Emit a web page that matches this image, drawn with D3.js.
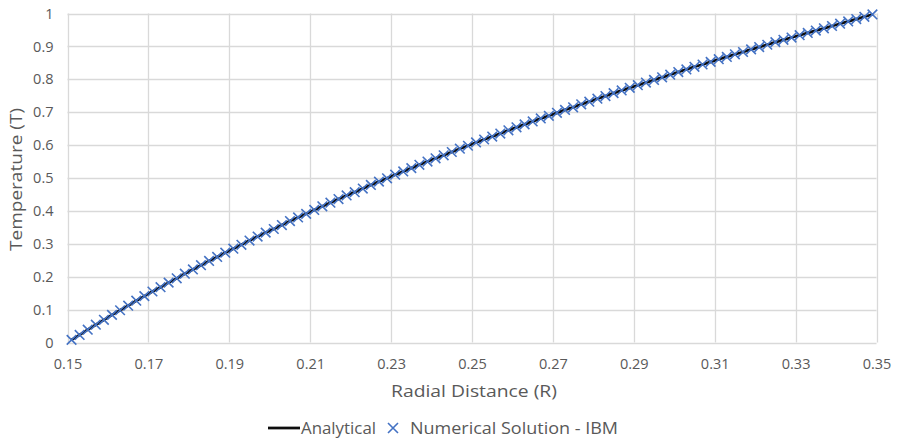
<!DOCTYPE html>
<html>
<head>
<meta charset="utf-8">
<script src="https://cdn.jsdelivr.net/npm/d3@7/dist/d3.min.js"></script>
<style>
  html, body { margin: 0; padding: 0; background: #fff; }
  svg { display: block; }
  text { font-family: "Open Sans", "Liberation Sans", sans-serif; fill: #595959; }
</style>
</head>
<body>
<svg id="chart" width="898" height="440"></svg>
<script>
// ---- Data ----
const radius = [
  0.151, 0.153, 0.155, 0.157, 0.159, 0.161, 0.163, 0.165, 0.167, 0.169,
  0.171, 0.173, 0.175, 0.177, 0.179, 0.181, 0.183, 0.185, 0.187, 0.189,
  0.191, 0.193, 0.195, 0.197, 0.199, 0.201, 0.203, 0.205, 0.207, 0.209,
  0.211, 0.213, 0.215, 0.217, 0.219, 0.221, 0.223, 0.225, 0.227, 0.229,
  0.231, 0.233, 0.235, 0.237, 0.239, 0.241, 0.243, 0.245, 0.247, 0.249,
  0.251, 0.253, 0.255, 0.257, 0.259, 0.261, 0.263, 0.265, 0.267, 0.269,
  0.271, 0.273, 0.275, 0.277, 0.279, 0.281, 0.283, 0.285, 0.287, 0.289,
  0.291, 0.293, 0.295, 0.297, 0.299, 0.301, 0.303, 0.305, 0.307, 0.309,
  0.311, 0.313, 0.315, 0.317, 0.319, 0.321, 0.323, 0.325, 0.327, 0.329,
  0.331, 0.333, 0.335, 0.337, 0.339, 0.341, 0.343, 0.345, 0.347, 0.349
];
const analyticalT = [
  0.008, 0.023, 0.039, 0.054, 0.069, 0.084, 0.098, 0.112, 0.127, 0.141,
  0.155, 0.168, 0.182, 0.195, 0.209, 0.222, 0.235, 0.248, 0.260, 0.273,
  0.285, 0.297, 0.310, 0.322, 0.334, 0.345, 0.357, 0.369, 0.380, 0.391,
  0.403, 0.414, 0.425, 0.436, 0.447, 0.457, 0.468, 0.479, 0.489, 0.499,
  0.510, 0.520, 0.530, 0.540, 0.550, 0.560, 0.569, 0.579, 0.589, 0.598,
  0.608, 0.617, 0.626, 0.635, 0.645, 0.654, 0.663, 0.672, 0.681, 0.689,
  0.698, 0.707, 0.715, 0.724, 0.732, 0.741, 0.749, 0.758, 0.766, 0.774,
  0.782, 0.790, 0.798, 0.806, 0.814, 0.822, 0.830, 0.838, 0.845, 0.853,
  0.861, 0.868, 0.876, 0.883, 0.891, 0.898, 0.905, 0.913, 0.920, 0.927,
  0.934, 0.941, 0.948, 0.955, 0.962, 0.969, 0.976, 0.983, 0.990, 0.997
];
const numericalT = [
  0.008, 0.023, 0.039, 0.054, 0.069, 0.084, 0.098, 0.112, 0.127, 0.141,
  0.155, 0.168, 0.182, 0.195, 0.209, 0.222, 0.235, 0.248, 0.260, 0.273,
  0.285, 0.297, 0.310, 0.322, 0.334, 0.345, 0.357, 0.369, 0.380, 0.391,
  0.403, 0.414, 0.425, 0.436, 0.447, 0.457, 0.468, 0.479, 0.489, 0.499,
  0.510, 0.520, 0.530, 0.540, 0.550, 0.560, 0.569, 0.579, 0.589, 0.598,
  0.608, 0.617, 0.626, 0.635, 0.645, 0.654, 0.663, 0.672, 0.681, 0.689,
  0.698, 0.707, 0.715, 0.724, 0.732, 0.741, 0.749, 0.758, 0.766, 0.774,
  0.782, 0.790, 0.798, 0.806, 0.814, 0.822, 0.830, 0.838, 0.845, 0.853,
  0.861, 0.868, 0.876, 0.883, 0.891, 0.898, 0.905, 0.913, 0.920, 0.927,
  0.934, 0.941, 0.948, 0.955, 0.962, 0.969, 0.976, 0.983, 0.990, 0.997
];
const xTicks = [0.15, 0.17, 0.19, 0.21, 0.23, 0.25, 0.27, 0.29, 0.31, 0.33, 0.35];
const yTicks = [0, 0.1, 0.2, 0.3, 0.4, 0.5, 0.6, 0.7, 0.8, 0.9, 1];
const xTitle = "Radial Distance (R)";
const yTitle = "Temperature (T)";
const seriesNames = ["Analytical", "Numerical Solution - IBM"];

// ---- Layout ----
const svg = d3.select("#chart");
const plot = { left: 67.5, right: 876.5, top: 13.5, bottom: 342.5 };

const x = d3.scaleLinear().domain([0.15, 0.35]).range([plot.left, plot.right]);
const y = d3.scaleLinear().domain([0, 1]).range([plot.bottom, plot.top]);

const gridColor = "#d9d9d9";

// vertical gridlines
svg.append("g").selectAll("line").data(xTicks).join("line")
  .attr("x1", d => Math.round(x(d)) + 0.5).attr("x2", d => Math.round(x(d)) + 0.5)
  .attr("y1", plot.top).attr("y2", plot.bottom)
  .attr("stroke", gridColor).attr("stroke-width", 1.3);

// horizontal gridlines
svg.append("g").selectAll("line").data(yTicks).join("line")
  .attr("x1", plot.left).attr("x2", plot.right)
  .attr("y1", d => Math.round(y(d)) + 0.5).attr("y2", d => Math.round(y(d)) + 0.5)
  .attr("stroke", gridColor).attr("stroke-width", 1.3);

// x axis tick labels
const xAxis = d3.axisBottom(x).tickValues(xTicks).tickSize(0).tickPadding(0)
  .tickFormat(d3.format(".2f"));
const gx = svg.append("g").attr("transform", `translate(0,${plot.bottom + 16})`).call(xAxis);
gx.select(".domain").remove();
gx.selectAll("text").style("font-size", "14.5px").attr("fill", "#595959")
  .attr("font-family", "Open Sans, Liberation Sans, sans-serif");

// y axis tick labels
const yAxis = d3.axisLeft(y).tickValues(yTicks).tickSize(0).tickPadding(0)
  .tickFormat(d => d === 0 ? "0" : d === 1 ? "1" : d3.format(".1f")(d));
const gy = svg.append("g").attr("transform", `translate(${plot.left - 14},0)`).call(yAxis);
gy.select(".domain").remove();
gy.selectAll("text").style("font-size", "14.5px").attr("fill", "#595959")
  .attr("font-family", "Open Sans, Liberation Sans, sans-serif");

// axis titles
svg.append("text").attr("x", 474).attr("y", 397)
  .attr("text-anchor", "middle").style("font-size", "17px")
  .attr("textLength", 166).attr("lengthAdjust", "spacingAndGlyphs").text(xTitle);
svg.append("text")
  .attr("transform", `translate(22,179.5) rotate(-90)`)
  .attr("text-anchor", "middle").style("font-size", "17px")
  .attr("textLength", 143).attr("lengthAdjust", "spacingAndGlyphs").text(yTitle);

// analytical line
const pts = radius.map((r, i) => [r, analyticalT[i]]);
const line = d3.line().x(d => x(d[0])).y(d => y(d[1]));
svg.append("path").datum(pts).attr("d", line)
  .attr("fill", "none").attr("stroke", "#0d0d0d").attr("stroke-width", 2.75)
  .attr("stroke-linejoin", "round");

// numerical markers (X)
const blue = "#4472c4";
const ms = 4.8;
const markers = svg.append("g");
markers.selectAll("path").data(radius.map((r, i) => [r, numericalT[i]])).join("path")
  .attr("d", d => {
    const cx = x(d[0]), cy = y(d[1]);
    return `M${cx - ms},${cy - ms}L${cx + ms},${cy + ms}M${cx - ms},${cy + ms}L${cx + ms},${cy - ms}`;
  })
  .attr("stroke", blue).attr("stroke-width", 1.6).attr("fill", "none");

// legend
const ly = 428;
svg.append("line").attr("x1", 268).attr("x2", 300).attr("y1", ly).attr("y2", ly)
  .attr("stroke", "#0d0d0d").attr("stroke-width", 2.75);
svg.append("text").attr("x", 301).attr("y", ly + 6).style("font-size", "16px")
  .attr("textLength", 75).attr("lengthAdjust", "spacingAndGlyphs").text(seriesNames[0]);
const lmx = 393, lms = 5;
svg.append("path")
  .attr("d", `M${lmx - lms},${ly - lms}L${lmx + lms},${ly + lms}M${lmx - lms},${ly + lms}L${lmx + lms},${ly - lms}`)
  .attr("stroke", blue).attr("stroke-width", 1.6);
svg.append("text").attr("x", 410).attr("y", ly + 6).style("font-size", "16px")
  .attr("textLength", 208).attr("lengthAdjust", "spacingAndGlyphs").text(seriesNames[1]);
</script>
</body>
</html>
